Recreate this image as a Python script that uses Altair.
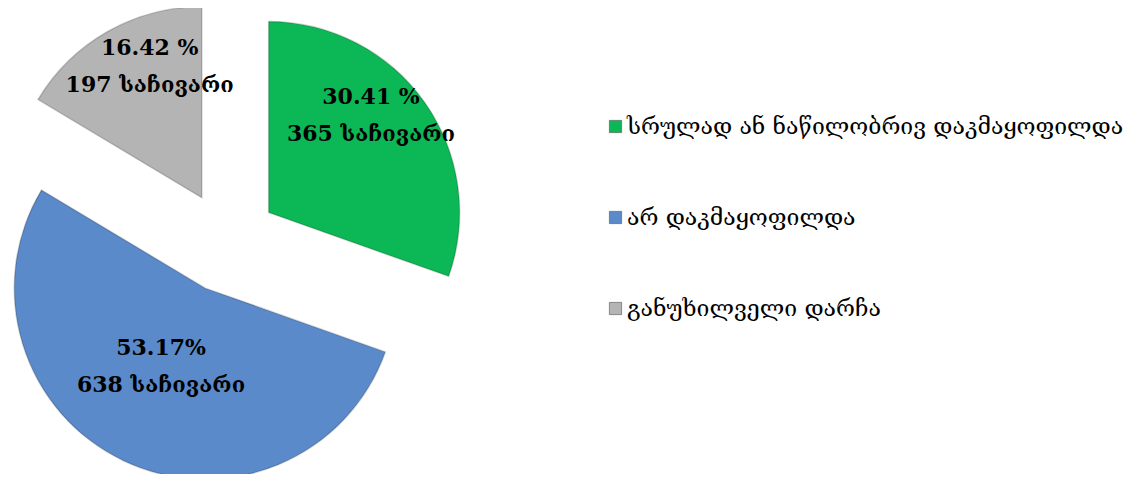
import altair as alt
import pandas as pd

# ---- data ----
CATEGORIES = [
    "სრულად ან ნაწილობრივ დაკმაყოფილდა",
    "არ დაკმაყოფილდა",
    "განუხილველი დარჩა",
]
COUNTS = [365, 638, 197]
PERCENT_TEXT = ["30.41 %", "53.17%", "16.42 %"]
UNIT = "საჩივარი"

# ---- style ----
COLORS = ["#0BB855", "#5A8ACA", "#B4B4B4"]
FONT = "DejaVu Serif"
W, H = 1131, 466
CX, CY = 219, 234        # pie centre (px, plot coords)
R = 191                  # pie radius
EXPLODE = 51             # slice explosion distance
LABEL_R = 118            # label distance from slice apex
LABEL_DX, LABEL_DY = 6, -47

df = pd.DataFrame({
    "category": CATEGORIES,
    "count": COUNTS,
    "pct": PERCENT_TEXT,
    "order": list(range(len(CATEGORIES))),
})
df["label"] = [f"{p}\n{c} {UNIT}" for p, c in zip(PERCENT_TEXT, COUNTS)]

base = (
    alt.Chart(df)
    .transform_window(cum="sum(count)", sort=[alt.SortField("order")], frame=[None, 0])
    .transform_joinaggregate(total="sum(count)")
    .transform_calculate(
        a0="2*PI*(datum.cum-datum.count)/datum.total",
        a1="2*PI*datum.cum/datum.total",
    )
    .transform_calculate(mid="(datum.a0+datum.a1)/2")
    .transform_calculate(
        cx=f"{CX}+{EXPLODE}*sin(datum.mid)",
        cy=f"{CY}-{EXPLODE}*cos(datum.mid)",
    )
    .transform_calculate(
        lx=f"datum.cx+{LABEL_R}*sin(datum.mid)+{LABEL_DX}",
        ly=f"datum.cy-{LABEL_R}*cos(datum.mid)+{LABEL_DY}",
    )
)

arcs = base.mark_arc(outerRadius=R, stroke="black", strokeOpacity=0.18, strokeWidth=1.5).encode(
    theta=alt.Theta("a0:Q", scale=None, stack=None),
    theta2="a1:Q",
    x=alt.X("cx:Q", scale=None, axis=None),
    y=alt.Y("cy:Q", scale=None, axis=None),
    color=alt.Color(
        "category:N",
        scale=alt.Scale(domain=CATEGORIES, range=COLORS),
        sort=CATEGORIES,
        legend=alt.Legend(
            title=None,
            orient="none",
            legendX=596,
            legendY=107,
            symbolType="square",
            symbolSize=150,
            symbolStrokeColor="#555",
            symbolStrokeWidth=0.6,
            labelFont=FONT,
            labelFontSize=23,
            labelColor="black",
            labelLimit=0,
            labelOffset=0,
            rowPadding=67,
        ),
    ),
)

labels = base.mark_text(
    font=FONT, fontSize=22, fontWeight="bold", color="black",
    lineBreak="\n", lineHeight=37, align="center", baseline="middle",
).encode(
    x=alt.X("lx:Q", scale=None, axis=None),
    y=alt.Y("ly:Q", scale=None, axis=None),
    text="label:N",
)

chart = (
    alt.layer(arcs, labels)
    .properties(width=W, height=H, padding=0, autosize=alt.AutoSizeParams(type="none"))
    .configure_view(stroke=None)
)

chart.save("out.html", embed_options={"renderer": "svg", "actions": False})
